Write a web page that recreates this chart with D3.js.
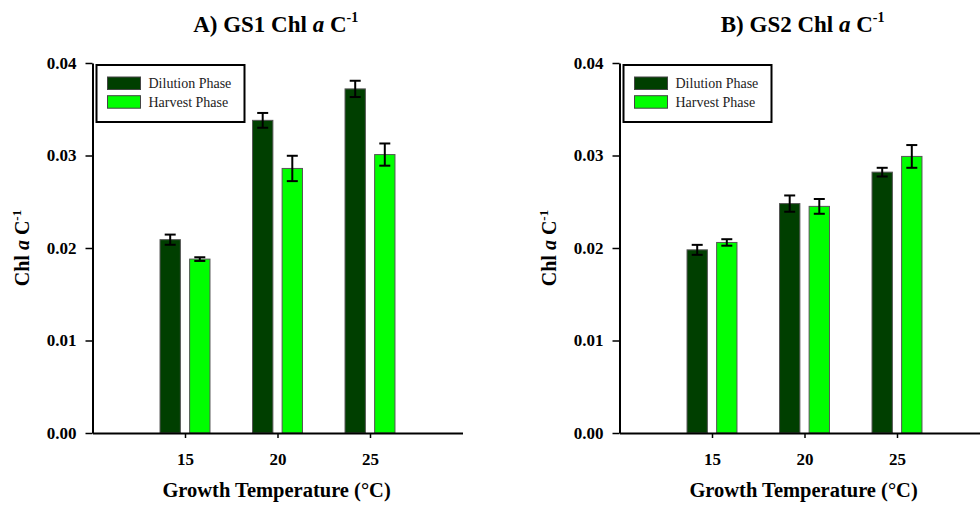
<!DOCTYPE html>
<html>
<head>
<meta charset="utf-8">
<script src="https://cdn.jsdelivr.net/npm/d3@7"></script>
<style>
  body { margin: 0; background: #fff; }
</style>
</head>
<body>
<div id="chart"></div>
<script>
// data
var temps = [15, 20, 25];
var phases = ["Dilution Phase", "Harvest Phase"];
var colors = ["#003f00", "#00ff00"];

var gs1Dilution = [0.0209, 0.0338, 0.0372];
var gs1DilutionErr = [0.00055, 0.0008, 0.00088];
var gs1Harvest = [0.0188, 0.0286, 0.0301];
var gs1HarvestErr = [0.0002, 0.00137, 0.0012];

var gs2Dilution = [0.0198, 0.0248, 0.0282];
var gs2DilutionErr = [0.00054, 0.00088, 0.00047];
var gs2Harvest = [0.0206, 0.0245, 0.0299];
var gs2HarvestErr = [0.00035, 0.0008, 0.00123];

var yTicks = [0, 0.01, 0.02, 0.03, 0.04];

var serif = "'Liberation Serif', 'Times New Roman', serif";

var svg = d3.select("#chart").append("svg")
    .attr("width", 980)
    .attr("height", 508)
    .style("font-family", serif);

function drawPanel(left, prefix, dil, dilErr, harv, harvErr) {
  var x = d3.scaleLinear().domain([10, 30]).range([left, left + 370]);
  var y = d3.scaleLinear().domain([0, 0.04]).range([433, 63]);
  var barW = x(11.1) - x(10);
  var offs = [-0.8, 0.8];
  var series = [
    {vals: dil, errs: dilErr},
    {vals: harv, errs: harvErr}
  ];

  var g = svg.append("g");

  // bars
  series.forEach(function(s, si) {
    g.selectAll(null)
      .data(temps)
      .enter()
      .append("rect")
        .attr("x", function(d) { return x(d + offs[si]) - barW / 2; })
        .attr("y", function(d, i) { return y(s.vals[i]); })
        .attr("width", barW)
        .attr("height", function(d, i) { return y(0) - y(s.vals[i]); })
        .attr("fill", colors[si])
        .attr("stroke", "#555")
        .attr("stroke-width", 1);
  });

  // error bars
  series.forEach(function(s, si) {
    var eb = g.selectAll(null)
      .data(temps)
      .enter()
      .append("g")
        .attr("stroke", "#000")
        .attr("stroke-width", 2);
    eb.append("line")
      .attr("x1", function(d) { return x(d + offs[si]); })
      .attr("x2", function(d) { return x(d + offs[si]); })
      .attr("y1", function(d, i) { return y(s.vals[i] - s.errs[i]); })
      .attr("y2", function(d, i) { return y(s.vals[i] + s.errs[i]); });
    [-1, 1].forEach(function(sign) {
      eb.append("line")
        .attr("x1", function(d) { return x(d + offs[si]) - 5.5; })
        .attr("x2", function(d) { return x(d + offs[si]) + 5.5; })
        .attr("y1", function(d, i) { return y(s.vals[i] + sign * s.errs[i]); })
        .attr("y2", function(d, i) { return y(s.vals[i] + sign * s.errs[i]); });
    });
  });

  // axes
  var xAxis = g.append("g")
    .attr("transform", "translate(0,433)")
    .call(d3.axisBottom(x).tickValues(temps).tickSize(5).tickPadding(15).tickSizeOuter(0));
  var yAxis = g.append("g")
    .attr("transform", "translate(" + left + ",0)")
    .call(d3.axisLeft(y).tickValues(yTicks).tickFormat(d3.format(".2f")).tickSize(7).tickPadding(9).tickSizeOuter(0));
  [xAxis, yAxis].forEach(function(a) {
    a.attr("font-family", serif).attr("font-size", 17);
    a.select(".domain").attr("stroke-width", 2);
    a.selectAll(".tick line").attr("stroke-width", 1.5);
    a.selectAll("text")
      .style("font-weight", "bold")
      .attr("fill", "#000");
  });

  // title
  var t = g.append("text")
    .attr("x", x(19.9))
    .attr("y", 32)
    .attr("text-anchor", "middle")
    .style("font-size", "23px")
    .style("font-weight", "bold");
  t.append("tspan").text(prefix + " Chl ");
  t.append("tspan").style("font-style", "italic").text("a");
  t.append("tspan").text(" C");
  t.append("tspan").attr("dy", -10).style("font-size", "14px").text("-1");

  // x label
  g.append("text")
    .attr("x", x(19.95))
    .attr("y", 497)
    .attr("text-anchor", "middle")
    .style("font-size", "20.5px")
    .style("font-weight", "bold")
    .text("Growth Temperature (°C)");

  // y label
  var yl = g.append("text")
    .attr("transform", "translate(" + (left - 64) + ",248) rotate(-90)")
    .attr("text-anchor", "middle")
    .style("font-size", "20px")
    .style("font-weight", "bold");
  yl.append("tspan").text("Chl ");
  yl.append("tspan").style("font-style", "italic").text("a");
  yl.append("tspan").text(" C");
  yl.append("tspan").attr("dy", -8).style("font-size", "13px").text("-1");

  // legend
  var lg = g.append("g").attr("transform", "translate(" + (left + 4) + ",65)");
  lg.append("rect")
    .attr("width", 148).attr("height", 57)
    .attr("fill", "#fff").attr("stroke", "#000").attr("stroke-width", 2);
  phases.forEach(function(p, i) {
    lg.append("rect")
      .attr("x", 11).attr("y", 12 + i * 18.7)
      .attr("width", 33).attr("height", 12.5)
      .attr("fill", colors[i]).attr("stroke", "#444").attr("stroke-width", 1);
    lg.append("text")
      .attr("x", 52).attr("y", 23 + i * 18.5)
      .style("font-size", "14px")
      .attr("fill", "#222")
      .text(p);
  });
}

drawPanel(92.5, "A) GS1", gs1Dilution, gs1DilutionErr, gs1Harvest, gs1HarvestErr);
drawPanel(619.5, "B) GS2", gs2Dilution, gs2DilutionErr, gs2Harvest, gs2HarvestErr);
</script>
</body>
</html>
